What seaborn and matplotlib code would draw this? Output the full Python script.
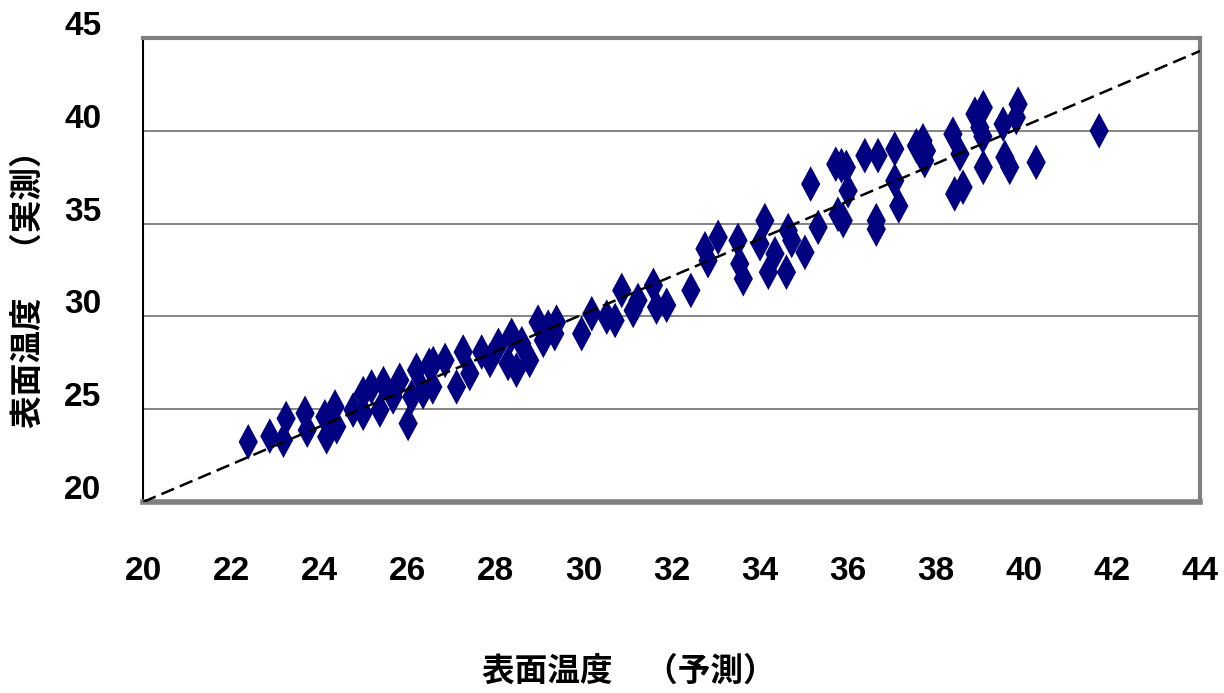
import matplotlib
matplotlib.use('Agg')
import matplotlib.pyplot as plt
import matplotlib.transforms as mtransforms
from matplotlib.path import Path
import seaborn as sns
import pandas as pd

pred = [22.39, 22.88, 23.19, 23.25, 23.68, 23.73, 24.13, 24.17, 24.36, 24.40,
        24.77, 25.00, 25.00, 25.19, 25.38, 25.46, 25.68, 25.83, 26.02, 26.10,
        26.21, 26.36, 26.50, 26.59, 26.58, 26.86, 27.12, 27.27, 27.42, 27.69,
        27.88, 28.07, 28.29, 28.37, 28.48, 28.60, 28.78, 28.97, 29.09, 29.20,
        29.35, 29.39, 29.96, 30.19, 30.53, 30.72, 30.87, 31.13, 31.24, 31.59,
        31.66, 31.89,
        32.44, 32.76, 32.83, 33.06, 33.51, 33.55, 33.63, 34.12, 34.01, 34.20,
        34.35, 34.61, 34.65, 34.73, 35.03, 35.16, 35.33, 35.78, 35.90, 35.73,
        35.86, 35.97, 36.01, 36.39, 36.69, 36.65, 36.65, 37.07, 37.07, 37.16,
        37.56, 37.71, 37.79, 37.75, 38.39, 38.55, 38.43, 38.62, 38.89, 39.08,
        39.00, 39.07, 39.08, 39.53, 39.57, 39.68, 39.87, 39.83, 40.28, 41.71]
meas = [23.24, 23.55, 23.33, 24.50, 24.78, 23.87, 24.59, 23.51, 25.12, 24.05,
        24.95, 25.84, 24.78, 26.20, 24.95, 26.38, 25.66, 26.56, 24.23, 25.66,
        27.10, 25.93, 27.37, 27.46, 26.20, 27.63, 26.20, 28.08, 26.92, 28.08,
        27.63, 28.44, 27.46, 28.98, 27.10, 28.53, 27.63, 29.69, 28.71, 29.42,
        29.07, 29.69, 29.07, 30.14, 29.96, 29.78, 31.40, 30.32, 30.86, 31.67,
        30.50, 30.60,
        31.40, 33.64, 33.00, 34.26, 34.09, 32.83, 32.03, 35.16, 33.91, 32.38,
        33.37, 32.38, 34.62, 34.09, 33.45, 37.13, 34.80, 35.50, 35.16, 38.20,
        38.12, 38.03, 36.77, 38.66, 38.66, 35.16, 34.70, 39.02, 37.31, 35.95,
        39.19, 39.46, 38.92, 38.39, 39.82, 38.75, 36.60, 36.96, 40.90, 41.25,
        40.18, 39.70, 38.03, 40.36, 38.57, 38.03, 41.43, 40.72, 38.30, 40.00]

# dashed reference line
line_x = [20, 44]
line_y = [20, 44.3]

x_ticks = [20, 22, 24, 26, 28, 30, 32, 34, 36, 38, 40, 42, 44]
y_ticks = [20, 25, 30, 35, 40, 45]

x_title = '表面温度　（予測）'
y_title = '表面温度　（実測）'

df = pd.DataFrame({'pred': pred, 'meas': meas})

sns.set_style('white')
plt.rcParams['font.family'] = ['Liberation Sans', 'DejaVu Sans']
plt.rcParams['text.color'] = 'black'
plt.rcParams['xtick.color'] = 'black'
plt.rcParams['ytick.color'] = 'black'

fig = plt.figure(figsize=(12.24, 6.93), dpi=100)
ax = fig.add_axes([143 / 1224, 1 - 502 / 693, 1057 / 1224, 464 / 693])

# grid lines first so markers sit on top
for v in y_ticks[1:-1]:
    ax.axhline(v, color='#707070', lw=1.2, zorder=1)

diamond = Path([(0, 1), (0.54, 0), (0, -1), (-0.54, 0), (0, 1)],
               [Path.MOVETO, Path.LINETO, Path.LINETO, Path.LINETO, Path.CLOSEPOLY])
sns.scatterplot(data=df, x='pred', y='meas', marker=diamond, s=660,
                color='#000080', edgecolor='none', linewidth=0, ax=ax, zorder=3)

ax.plot(line_x, line_y, color='black', lw=1.8, dashes=(5.5, 2.5), zorder=4)

ax.set_xlim(20, 44)
ax.set_ylim(20, 45)
ax.set_xticks(x_ticks)
ax.set_yticks(y_ticks)
ax.set_xlabel('')
ax.set_ylabel('')

ax.tick_params(axis='x', direction='in', length=17, width=1, color='black',
               labelcolor='black', pad=39, labelsize=24)
ax.tick_params(axis='y', direction='in', length=9, width=1.2, color='#404040',
               labelcolor='black', pad=30, labelsize=24)
for lab in ax.get_xticklabels() + ax.get_yticklabels():
    lab.set_fontweight('bold')

# y labels sit a little above their grid lines
offset = mtransforms.ScaledTranslation(0, 15 / 100, fig.dpi_scale_trans)
for lab in ax.get_yticklabels():
    lab.set_transform(lab.get_transform() + offset)

for side in ['top', 'right', 'bottom']:
    ax.spines[side].set_color('#808080')
ax.spines['top'].set_linewidth(3)
ax.spines['right'].set_linewidth(3)
ax.spines['bottom'].set_linewidth(4)
ax.spines['left'].set_color('black')
ax.spines['left'].set_linewidth(1.5)

cjk = ['Noto Sans CJK JP', 'DejaVu Sans']
fig.text(629 / 1224, 1 - 671 / 693, x_title, family=cjk, weight='bold',
         fontsize=23.5, ha='center', va='center', color='black')
fig.text(28 / 1224, 1 - 281 / 693, y_title, family=cjk, weight='bold',
         fontsize=23.5, ha='center', va='center', rotation=90, color='black')

fig.savefig('out.png', dpi=100)
